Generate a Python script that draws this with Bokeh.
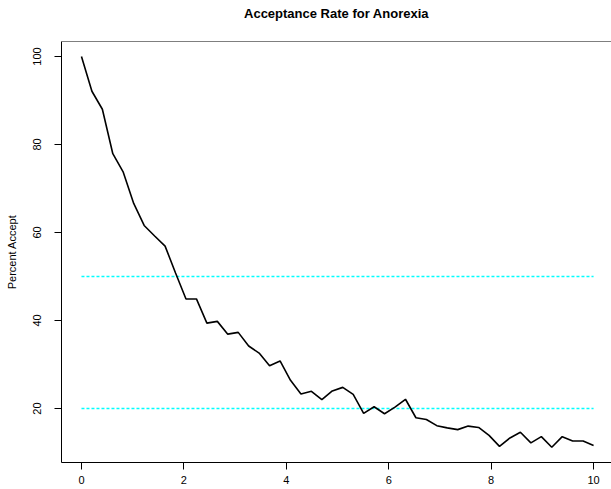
from bokeh.plotting import figure
from bokeh.models import Range1d, FixedTicker, Span, Title
from bokeh.embed import file_html
from bokeh.resources import INLINE

# data
time_x = [0.0, 0.204, 0.408, 0.612, 0.816, 1.020, 1.224, 1.429, 1.633, 1.837,
          2.041, 2.245, 2.449, 2.653, 2.857, 3.061, 3.265, 3.469, 3.673, 3.878,
          4.082, 4.286, 4.490, 4.694, 4.898, 5.102, 5.306, 5.510, 5.714, 5.918,
          6.122, 6.327, 6.531, 6.735, 6.939, 7.143, 7.347, 7.551, 7.755, 7.959,
          8.163, 8.367, 8.571, 8.776, 8.980, 9.184, 9.388, 9.592, 9.796, 10.0]
percent_accept = [100.0, 92.1, 88.0, 77.9, 73.7, 66.6, 61.6, 59.2, 56.9, 50.8,
                  44.9, 44.9, 39.4, 39.8, 36.9, 37.3, 34.2, 32.6, 29.7, 30.8,
                  26.4, 23.3, 23.9, 22.0, 24.0, 24.8, 23.2, 18.9, 20.4, 18.8,
                  20.3, 22.1, 17.9, 17.5, 16.1, 15.6, 15.2, 16.0, 15.7, 13.9,
                  11.4, 13.3, 14.6, 12.2, 13.6, 11.2, 13.6, 12.6, 12.6, 11.6]
reference_levels = [50, 20]
x_ticks = [0, 2, 4, 6, 8, 10]
y_ticks = [20, 40, 60, 80, 100]
title_text = "Acceptance Rate for Anorexia"

FONT = "Liberation Sans"

p = figure(width=611, height=489, output_backend="svg", toolbar_location=None,
           x_range=Range1d(-0.39, 10.35), y_range=Range1d(7.73, 103.4),
           min_border_left=61, min_border_right=0, min_border_top=41,
           min_border_bottom=27, title=title_text)

p.title.align = "center"
p.title.text_font = FONT
p.title.text_font_size = "13px"
p.title.text_font_style = "bold"
p.title.text_color = "black"
p.title.standoff = 2

# blank spacer between the title and the plotting box
p.add_layout(Title(text=" ", text_font=FONT, text_font_size="13px",
                   standoff=3), "above")

p.grid.visible = False
p.outline_line_color = None
p.background_fill_color = "white"
p.border_fill_color = "white"

for ax in (p.xaxis[0], p.yaxis[0]):
    ax.axis_line_color = "black"
    ax.axis_line_width = 1
    ax.major_tick_line_color = "black"
    ax.major_tick_out = 7
    ax.major_tick_in = 0
    ax.minor_tick_line_color = None
    ax.major_label_text_font = FONT
    ax.major_label_text_font_size = "11px"
    ax.major_label_text_color = "black"

p.xaxis.ticker = FixedTicker(ticks=x_ticks)
p.yaxis.ticker = FixedTicker(ticks=y_ticks)
p.xaxis.major_label_standoff = 6
p.yaxis.major_label_standoff = 13
p.yaxis.major_label_orientation = "vertical"
p.yaxis.axis_label = "Percent Accept"
p.yaxis.axis_label_text_font = FONT
p.yaxis.axis_label_text_font_size = "11px"
p.yaxis.axis_label_text_font_style = "normal"
p.yaxis.axis_label_text_color = "black"
p.yaxis.axis_label_standoff = 13

# top side of the box
p.add_layout(Span(location=p.y_range.end, dimension="width",
                  line_color="black", line_width=1))

for lvl in reference_levels:
    p.line(x=[time_x[0], time_x[-1]], y=[lvl, lvl], line_color="cyan",
           line_width=1.5, line_dash="3 2")

p.line(x=time_x, y=percent_accept, line_color="black", line_width=1.6)

open("out.html", "w").write(file_html(p, INLINE))
